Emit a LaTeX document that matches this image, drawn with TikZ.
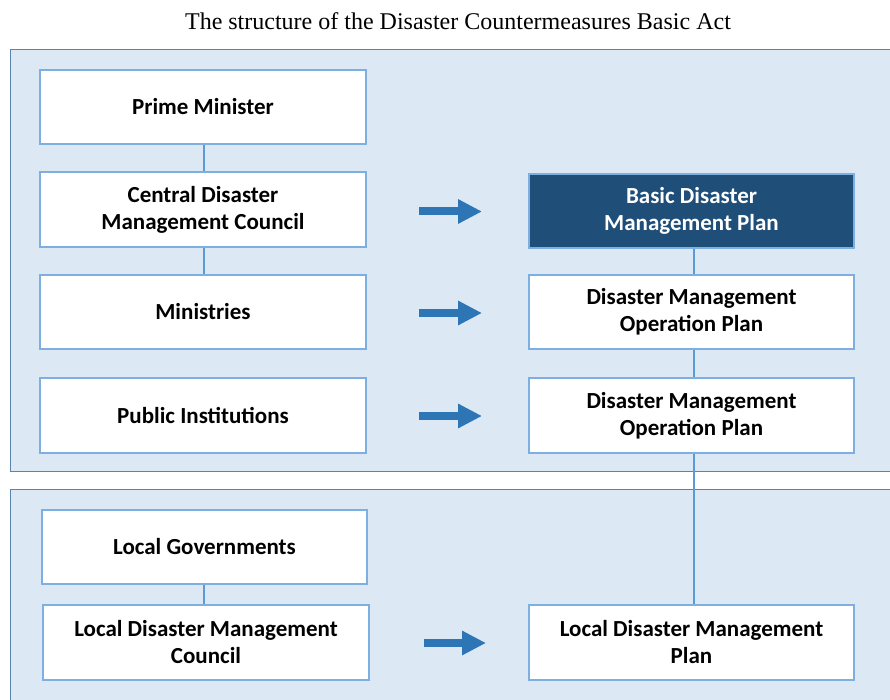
\documentclass[tikz,border=0pt]{standalone}
\usepackage{fontspec}
\setmainfont{Liberation Serif}
\newfontfamily\boxfont{Carlito}
\usetikzlibrary{arrows.meta,calc}
\definecolor{panelfill}{HTML}{DDE8F5}
\definecolor{paneldraw}{HTML}{5A84B0}
\definecolor{boxdraw}{HTML}{7DB0E0}
\definecolor{darkfill}{HTML}{1F4E79}
\definecolor{linkcol}{HTML}{5B9BD5}
\definecolor{arrowcol}{HTML}{2E75B6}
\tikzset{
  panel/.style={fill=panelfill,draw=paneldraw,line width=1pt},
  whitebox/.style={draw=boxdraw,fill=white,line width=1.3pt,align=center,
    font=\boxfont\bfseries\fontsize{23}{27}\selectfont,text=black,inner sep=0pt},
  darkbox/.style={whitebox,fill=darkfill,text=white},
  link/.style={draw=linkcol,line width=2pt},
  bigarrow/.style={draw=arrowcol,line width=8pt,
    -{Triangle[length=24pt,width=23pt,fill=arrowcol]}}
}
\begin{document}
\begin{tikzpicture}[x=1pt,y=-1pt]
\useasboundingbox (0,0) rectangle (890,700);
\fill[white] (0,0) rectangle (890,700);
\node[font=\fontsize{24}{28}\selectfont] (title) at (458,21) {The structure of the Disaster Countermeasures Basic Act};
% panels
\path[panel] (891,50) -- (10,50) -- (10,471) -- (891,471);
\path[panel] (891,489) -- (10,489) -- (10,701) -- (891,701);
% left column
\node[whitebox,minimum width=326pt,minimum height=74pt] (pm) at (203,107) {Prime Minister};
\node[whitebox,minimum width=326pt,minimum height=75pt] (cdmc) at (203,209.5) {Central Disaster\\Management Council};
\node[whitebox,minimum width=326pt,minimum height=74pt] (min) at (203,312) {Ministries};
\node[whitebox,minimum width=326pt,minimum height=75pt] (pub) at (203,415.5) {Public Institutions};
% right column
\node[darkbox,minimum width=325pt,minimum height=74pt] (bdmp) at (691.5,211) {Basic Disaster\\Management Plan};
\node[whitebox,minimum width=325pt,minimum height=74pt] (op1) at (691.5,312) {Disaster Management\\Operation Plan};
\node[whitebox,minimum width=325pt,minimum height=75pt] (op2) at (691.5,415.5) {Disaster Management\\Operation Plan};
% lower panel
\node[whitebox,minimum width=325pt,minimum height=74pt] (lg) at (204.5,547) {Local Governments};
\node[whitebox,minimum width=326pt,minimum height=75pt] (ldmc) at (206,642.5) {Local Disaster Management\\Council};
\node[whitebox,minimum width=325pt,minimum height=75pt] (ldmp) at (691.5,642.5) {Local Disaster Management\\Plan};
% links
\draw[link] (pm.south -| 204,0) -- (cdmc.north -| 204,0);
\draw[link] (cdmc.south -| 204,0) -- (min.north -| 204,0);
\draw[link] (lg.south -| 204,0) -- (ldmc.north -| 204,0);
\draw[link] (bdmp.south -| 694,0) -- (op1.north -| 694,0);
\draw[link] (op1.south -| 694,0) -- (op2.north -| 694,0);
\draw[link] (op2.south -| 694,0) -- (ldmp.north -| 694,0);
% arrows
\coordinate (a1s) at (419,211.5); \coordinate (a1e) at (482,211.5);
\coordinate (a2s) at (419,313); \coordinate (a2e) at (482,313);
\coordinate (a3s) at (419,416); \coordinate (a3e) at (482,416);
\coordinate (a4s) at (424,643); \coordinate (a4e) at (486,643);
\draw[bigarrow] (a1s) -- (a1e);
\draw[bigarrow] (a2s) -- (a2e);
\draw[bigarrow] (a3s) -- (a3e);
\draw[bigarrow] (a4s) -- (a4e);
\end{tikzpicture}
\end{document}
